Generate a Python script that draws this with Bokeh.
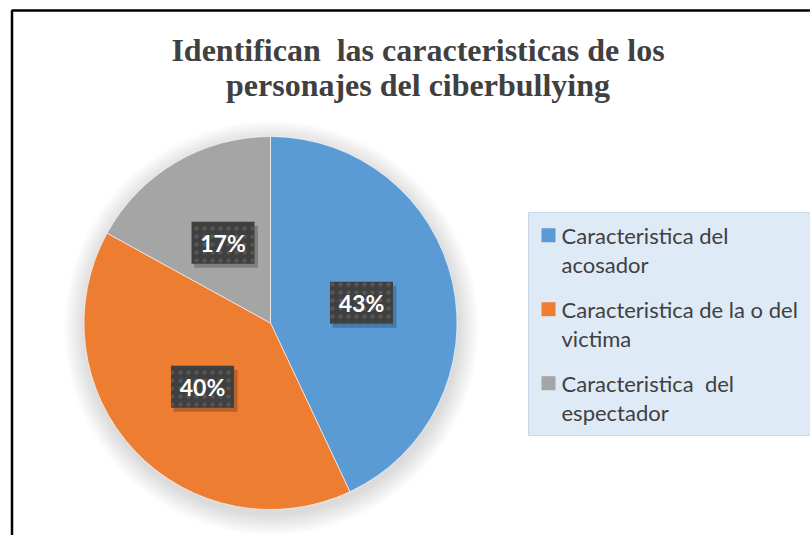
import math
from bokeh.plotting import figure
from bokeh.models import Range1d, ColumnDataSource
from bokeh.core.properties import value
from bokeh.embed import file_html
from bokeh.resources import INLINE

# ---- data ----
categories = ["Caracteristica del acosador",
              "Caracteristica de la o del victima",
              "Caracteristica  del espectador"]
legend_lines = [["Caracteristica del", "acosador"],
                ["Caracteristica de la o del", "victima"],
                ["Caracteristica \u00a0del", "espectador"]]
percentages = [43, 40, 17]
colors = ["#5B9BD5", "#ED7D31", "#A5A5A5"]
title_lines = ["Identifican \u00a0las caracteristicas de los",
               "personajes del ciberbullying"]

W, H = 810, 535


def X(px):
    return px


def Y(py):
    return H - py


p = figure(width=W, height=H, output_backend="svg", toolbar_location=None,
           x_range=Range1d(0, W), y_range=Range1d(0, H), min_border=0)
p.axis.visible = False
p.grid.visible = False
p.outline_line_color = None
p.background_fill_color = "white"
p.border_fill_color = "white"

# chart border (top and left visible)
p.line([X(11.5), X(11.5), W + 5], [-5, Y(10), Y(10)], line_color="black", line_width=2.5)

# title
for i, t in enumerate(title_lines):
    p.text(x=[X(417.5)], y=[Y(49 + 35 * i)], text=[t],
           text_font=value("Liberation Serif"), text_font_style="bold",
           text_font_size="32px", text_color="#404040",
           text_align="center", text_baseline="alphabetic")

# pie geometry
cx, cy, R = X(270), Y(322.5), 186.5

# soft shadow
for k in range(12):
    p.circle(x=[cx + 1], y=[cy - 5], radius=R + 1 + k * 1.8,
             fill_color="black", fill_alpha=0.012, line_color=None)

total = sum(percentages)
starts, ends, mids = [], [], []
a = math.pi / 2
for v in percentages:
    sweep = 2 * math.pi * v / total
    starts.append(a - sweep)
    ends.append(a)
    mids.append(a - sweep / 2)
    a -= sweep

src = ColumnDataSource(dict(start=starts, end=ends, color=colors))
p.wedge(x=cx, y=cy, radius=R, start_angle="start", end_angle="end",
        fill_color="color", line_color="white", line_width=0.6, source=src)

# data labels
lx = [cx + 0.5 * R * math.cos(m) for m in mids]
ly = [cy + 0.5 * R * math.sin(m) for m in mids]
labels = [f"{v}%" for v in percentages]
p.rect(x=[x + 3 for x in lx], y=[y - 4 for y in ly], width=64, height=42,
       fill_color="black", fill_alpha=0.22, line_color=None)
p.rect(x=lx, y=ly, width=63, height=42, fill_color="#404040", line_color=None,
       hatch_pattern="dot", hatch_color="#575757", hatch_scale=8, hatch_weight=1.2)
p.text(x=lx, y=ly, text=labels, text_font=value("Lato"), text_font_style="bold",
       text_font_size="23px", text_color="white", text_align="center",
       text_baseline="middle")

# legend
p.quad(left=[X(528)], right=[W + 5], top=[Y(212)], bottom=[Y(435)],
       fill_color="#DEEAF6", line_color="#C9D9EA", line_width=1)
for i, lines in enumerate(legend_lines):
    base = 235 + 74 * i
    p.rect(x=[X(548)], y=[Y(234.7 + 74 * i)], width=14, height=14,
           fill_color=colors[i], line_color=None)
    for j, ln in enumerate(lines):
        p.text(x=[X(561)], y=[Y(base + 29 * j)], text=[ln],
               text_font=value("Lato"), text_font_size="22px",
               text_color="#404040", text_align="left",
               text_baseline="alphabetic")

open("out.html", "w").write(file_html(p, INLINE))
